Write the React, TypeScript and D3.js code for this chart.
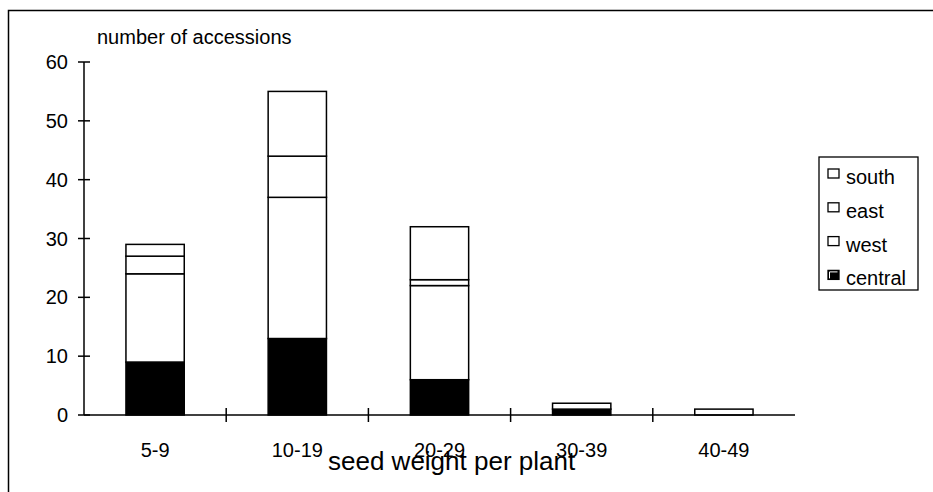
import { useEffect, useRef } from 'react';
import * as d3 from 'd3';

const categories = ['5-9', '10-19', '20-29', '30-39', '40-49'];
const central = [9, 13, 6, 1, 0];
const west = [15, 24, 16, 0, 0];
const east = [3, 7, 1, 0, 0];
const south = [2, 11, 9, 1, 1];
const seriesNames = ['central', 'west', 'east', 'south'];
const yTicks = [0, 10, 20, 30, 40, 50, 60];

const W = 933;
const H = 492;
const FONT = '"Liberation Sans", Arial, sans-serif';

export default function App() {
  const svgRef = useRef<SVGSVGElement>(null);

  useEffect(() => {
    if (!svgRef.current) return;
    const svg = d3.select(svgRef.current);
    svg.selectAll('*').remove();

    const left = 84;
    const right = 795;
    const top = 62;
    const bottom = 415;

    // outer frame, runs past the window on right and bottom
    svg.append('rect')
      .attr('x', 8.5).attr('y', 10.5)
      .attr('width', 940).attr('height', 500)
      .attr('fill', 'none').attr('stroke', '#000').attr('stroke-width', 1.5);

    const x = d3.scaleBand()
      .domain(categories)
      .range([left, right])
      .paddingInner(0.59)
      .paddingOuter(0.295);

    const y = d3.scaleLinear().domain([0, 60]).range([bottom, top]);

    const rows = categories.map((c, i) => ({
      cat: c, central: central[i], west: west[i], east: east[i], south: south[i],
    }));
    const stack = d3.stack<any>().keys(seriesNames)(rows);
    const fills: Record<string, string> = { central: '#000', west: '#fff', east: '#fff', south: '#fff' };

    const g = svg.append('g');
    stack.forEach(layer => {
      g.selectAll(null)
        .data(layer.filter(d => d[1] - d[0] > 0))
        .enter()
        .append('rect')
        .attr('x', d => x(d.data.cat) as number)
        .attr('y', d => y(d[1]))
        .attr('width', x.bandwidth())
        .attr('height', d => y(d[0]) - y(d[1]))
        .attr('fill', fills[layer.key])
        .attr('stroke', '#000')
        .attr('stroke-width', 1.5);
    });

    // y axis
    svg.append('line')
      .attr('x1', left).attr('x2', left).attr('y1', top).attr('y2', bottom)
      .attr('stroke', '#000').attr('stroke-width', 1.5);
    yTicks.forEach(t => {
      svg.append('line')
        .attr('x1', left - 6).attr('x2', left + 6)
        .attr('y1', y(t)).attr('y2', y(t))
        .attr('stroke', '#000').attr('stroke-width', 1.5);
      svg.append('text')
        .attr('x', 68).attr('y', y(t) + 7)
        .attr('text-anchor', 'end')
        .attr('font-family', FONT).attr('font-size', 20)
        .text(t);
    });

    // x axis
    svg.append('line')
      .attr('x1', left).attr('x2', right).attr('y1', bottom).attr('y2', bottom)
      .attr('stroke', '#000').attr('stroke-width', 1.5);
    const step = x.step();
    categories.forEach((c, i) => {
      if (i > 0) {
        const tx = left + step * i;
        svg.append('line')
          .attr('x1', tx).attr('x2', tx).attr('y1', bottom - 7).attr('y2', bottom + 7)
          .attr('stroke', '#000').attr('stroke-width', 1.5);
      }
      svg.append('text')
        .attr('x', (x(c) as number) + x.bandwidth() / 2)
        .attr('y', 457)
        .attr('text-anchor', 'middle')
        .attr('font-family', FONT).attr('font-size', 20)
        .text(c);
    });

    svg.append('text')
      .attr('x', 97).attr('y', 44)
      .attr('font-family', FONT).attr('font-size', 20)
      .text('number of accessions');

    svg.append('text')
      .attr('x', 328).attr('y', 470)
      .attr('font-family', FONT).attr('font-size', 26)
      .text('seed weight per plant');

    // legend
    svg.append('rect')
      .attr('x', 819).attr('y', 157).attr('width', 99).attr('height', 133)
      .attr('fill', '#fff').attr('stroke', '#000').attr('stroke-width', 1.3);
    const legendOrder = ['south', 'east', 'west', 'central'];
    legendOrder.forEach((name, i) => {
      const by = 184 + i * 33.8;
      svg.append('rect')
        .attr('x', 828).attr('y', by - 15).attr('width', 11).attr('height', 9)
        .attr('fill', fills[name]).attr('stroke', '#000').attr('stroke-width', 1.3);
      if (name === 'central') {
        svg.append('path')
          .attr('d', `M${829.5},${by - 7}V${by - 13.5}H${837.5}`)
          .attr('fill', 'none').attr('stroke', '#fff').attr('stroke-width', 1);
      }
      svg.append('text')
        .attr('x', 846).attr('y', by)
        .attr('font-family', FONT).attr('font-size', 20)
        .text(name);
    });
  }, []);

  return (
    <svg
      ref={svgRef}
      width={W}
      height={H}
      style={{ position: 'absolute', left: 0, top: 0, background: '#fff' }}
    />
  );
}
